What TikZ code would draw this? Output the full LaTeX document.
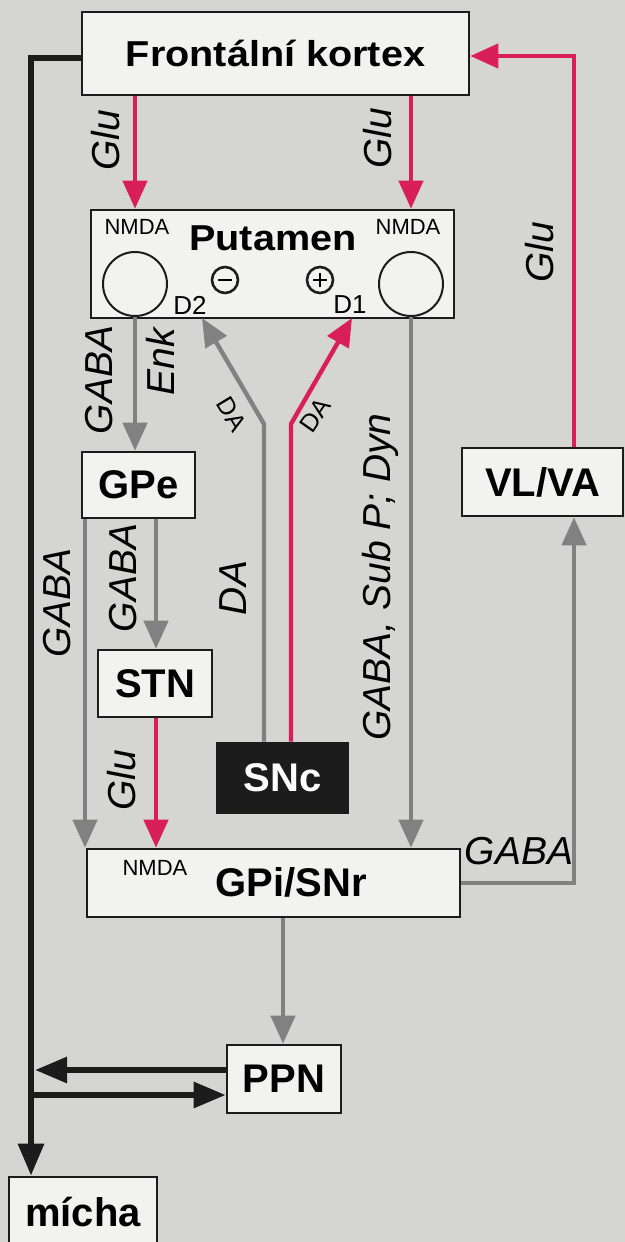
\documentclass[tikz,border=0pt]{standalone}
\usepackage{fontspec}
\setmainfont{Liberation Sans}
\newfontfamily\widefont[FakeStretch=1.1]{Liberation Sans}
\usetikzlibrary{arrows.meta}

\definecolor{bggrey}{HTML}{D5D5D3}
\definecolor{boxfill}{HTML}{F2F2F0}
\definecolor{glured}{HTML}{D81E5B}
\definecolor{gabagrey}{HTML}{818181}
\definecolor{inkblack}{HTML}{1C1C1C}

\tikzset{
    box/.style={draw=inkblack, line width=1.3pt, fill=boxfill, inner sep=0pt,
        font=\bfseries\fontsize{20}{20}\selectfont},
    widebox/.style={box, font=\widefont\bfseries\fontsize{18}{18}\selectfont},
    tag/.style={font=\itshape\fontsize{19.5}{19.5}\selectfont, inner sep=0pt},
    datag/.style={font=\fontsize{12.5}{12.5}\selectfont, inner sep=0pt},
    nmdatag/.style={font=\fontsize{11}{11}\selectfont, inner sep=0pt},
    dtag/.style={font=\fontsize{13}{13}\selectfont, inner sep=0pt},
    receptor/.style={circle, draw=inkblack, line width=1pt, minimum size=32pt, inner sep=0pt},
    signcirc/.style={circle, draw=inkblack, line width=1.3pt, minimum size=13pt, inner sep=0pt},
    redarrow/.style={draw=glured, line width=2.2pt, -{Triangle[length=14pt, width=12pt]}},
    greyarrow/.style={draw=gabagrey, line width=2.2pt, -{Triangle[length=14pt, width=12pt]}},
    blackarrow/.style={draw=inkblack, line width=3pt, -{Triangle[length=16pt, width=12.5pt]}},
}

\begin{document}
\begin{tikzpicture}[x=0.5pt, y=-0.5pt]
    \fill[bggrey] (0,0) rectangle (625,1242);
    \useasboundingbox (0,0) rectangle (625,1242);
    \clip (0,0) rectangle (625,1242);

    % Columns
    \coordinate (cD) at (85,0);
    \coordinate (cE) at (156,0);
    \coordinate (cC) at (574,0);
    \coordinate (cH) at (283,0);
    \coordinate (cM) at (31,0);
    \coordinate (cMr) at (35,0);

    % Nodes
    \node[widebox, minimum width=193.5pt, minimum height=41.5pt] (kortex) at (275.5,53.5) {Frontální kortex};
    \node[box, minimum width=181.5pt, minimum height=54pt] (putamen) at (272.5,264) {};
    \node[box, minimum width=56.5pt, minimum height=33pt] (gpe) at (138.5,485) {GPe};
    \node[box, minimum width=57pt, minimum height=33.5pt] (stn) at (155,683.5) {STN};
    \node[box, fill=inkblack, text=white, minimum width=65.5pt, minimum height=35pt] (snc) at (282.5,778) {SNc};
    \node[box, minimum width=80.5pt, minimum height=34pt] (vlva) at (542.5,482) {VL/VA};
    \node[box, minimum width=186.5pt, minimum height=34pt] (gpi) at (273.5,883) {};
    \node[box, minimum width=57pt, minimum height=34pt] (ppn) at (284,1079) {PPN};
    \node[box, minimum width=74pt, minimum height=35pt] (micha) at (83,1212) {mícha};

    % Inside Putamen and GPi/SNr
    \node[font=\widefont\bfseries\fontsize{18}{18}\selectfont, inner sep=0pt] (puttext) at (273,238) {Putamen};
    \node[nmdatag] (nmdaL) at (137,227) {NMDA};
    \node[nmdatag] (nmdaR) at (408,227) {NMDA};
    \node[receptor] (cirL) at (135,284) {};
    \node[receptor] (cirR) at (411,284) {};
    \node[dtag] (dtwo) at (190,305) {D2};
    \node[dtag] (done) at (350,305) {D1};
    \node[signcirc] (minus) at (225,280) {};
    \node[signcirc] (plus) at (320,280) {};
    \draw[line width=1.4pt] ([xshift=-3.5pt]minus.center) -- ([xshift=3.5pt]minus.center);
    \draw[line width=1.4pt] ([xshift=-3.5pt]plus.center) -- ([xshift=3.5pt]plus.center);
    \draw[line width=1.4pt] ([yshift=-3.5pt]plus.center) -- ([yshift=3.5pt]plus.center);
    \node[font=\bfseries\fontsize{20}{20}\selectfont, inner sep=0pt] (gpitext) at (291,882) {GPi/SNr};
    \node[nmdatag] (nmdaG) at (155,868) {NMDA};

    % Bends of the DA paths
    \coordinate (bendL) at (264,424);
    \coordinate (tipL) at (202,318);
    \coordinate (bendR) at (291,424);
    \coordinate (tipR) at (352,318);
    \coordinate (ppnout) at ([yshift=4.5pt]ppn.west);
    \coordinate (ppnin) at ([yshift=-8pt]ppn.west);

    % Glu connections
    \draw[redarrow] (kortex.south -| cirL) -- (putamen.north -| cirL);
    \draw[redarrow] (kortex.south -| cirR) -- (putamen.north -| cirR);
    \draw[redarrow] (vlva.north -| cC) |- ([yshift=-1.25pt]kortex.east);
    \draw[redarrow] (stn.south -| cE) -- (gpi.north -| cE);
    \draw[redarrow] (snc.north -| bendR) -- (bendR) -- (tipR);

    % GABA and DA connections
    \draw[greyarrow] (cirL.south) -- (cirL.south |- gpe.north);
    \draw[greyarrow] (cirR.south) -- (cirR.south |- gpi.north);
    \draw[greyarrow] (snc.north -| bendL) -- (bendL) -- (tipL);
    \draw[greyarrow] (gpe.south -| cE) -- (stn.north -| cE);
    \draw[greyarrow] (gpe.south -| cD) -- (gpi.north -| cD);
    \draw[greyarrow] (gpi.east) -| (vlva.south -| cC);
    \draw[greyarrow] (gpi.south -| cH) -- (ppn.north -| cH);

    % Descending connections
    \draw[blackarrow] ([yshift=-2pt]kortex.west) -| (micha.north -| cM);
    \draw[blackarrow] (ppnout) -- (ppnout -| cMr);
    \draw[blackarrow] (ppnin -| cM) -- (ppnin);

    % Labels
    \node[tag, rotate=90] (gluA) at (106,140) {Glu};
    \node[tag, rotate=90] (gluB) at (378,138) {Glu};
    \node[tag, rotate=90] (gluC) at (540,252) {Glu};
    \node[tag, rotate=90] (gluD) at (122,780) {Glu};
    \node[tag, rotate=90] (gabaA) at (99,380) {GABA};
    \node[tag, rotate=90] (enk) at (160,362) {Enk};
    \node[tag, rotate=90] (gabaB) at (57,603) {GABA};
    \node[tag, rotate=90] (gabaC) at (123,578) {GABA};
    \node[tag, rotate=90] (daBig) at (233,588) {DA};
    \node[tag, rotate=90] (gabaSub) at (380,577) {GABA, Sub P; Dyn};
    \node[tag] (gabaD) at (519,851) {GABA};
    \node[datag, rotate=-59] (daL) at (232,414) {DA};
    \node[datag, rotate=55] (daR) at (315,415) {DA};
\end{tikzpicture}
\end{document}
